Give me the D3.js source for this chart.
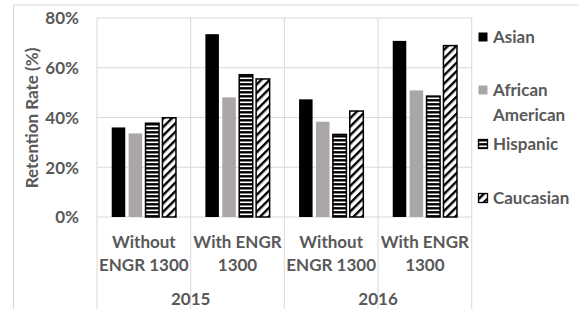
<!DOCTYPE html>
<html>
<head>
<meta charset="utf-8">
<script src="https://cdn.jsdelivr.net/npm/d3@7"></script>
<style>
  body { margin: 0; background: #fff; }
  text { font-family: Lato, "Open Sans", sans-serif; font-weight: bold; fill: #595959; }
</style>
</head>
<body>
<div id="chart"></div>
<script>
// data
const years = ['2015', '2016'];
const courses = [['Without', 'ENGR 1300'], ['With ENGR', '1300']];
const series = ['Asian', 'African American', 'Hispanic', 'Caucasian'];
const asian = [0.36, 0.735, 0.473, 0.708];
const africanAmerican = [0.336, 0.481, 0.383, 0.509];
const hispanic = [0.377, 0.572, 0.332, 0.486];
const caucasian = [0.399, 0.555, 0.426, 0.689];
const yTicks = [0, 0.2, 0.4, 0.6, 0.8];

const values = [asian, africanAmerican, hispanic, caucasian];
const cats = [];
years.forEach(function(y, yi) {
  courses.forEach(function(c, ci) { cats.push({year: y, yi: yi, label: c, idx: yi * 2 + ci}); });
});

const width = 579, height = 309;
const plotL = 97, plotR = 471.7, plotT = 18, plotB = 217;
const grid = '#d9d9d9';
const fs = '17px';

const svg = d3.select('#chart').append('svg')
  .attr('width', width)
  .attr('height', height);

// patterns
const defs = svg.append('defs');
const pH = defs.append('pattern')
  .attr('id', 'hstripe').attr('patternUnits', 'userSpaceOnUse')
  .attr('width', 8).attr('height', 4);
pH.append('rect').attr('width', 8).attr('height', 4).attr('fill', '#000');
pH.append('rect').attr('y', 1.5).attr('width', 8).attr('height', 1.6).attr('fill', '#fff');

const pD = defs.append('pattern')
  .attr('id', 'dstripe').attr('patternUnits', 'userSpaceOnUse')
  .attr('width', 6).attr('height', 6)
  .attr('patternTransform', 'rotate(45)');
pD.append('rect').attr('width', 6).attr('height', 6).attr('fill', '#fff');
pD.append('rect').attr('width', 2.4).attr('height', 6).attr('fill', '#000');

const fills = ['#000', '#a9a6a5', 'url(#hstripe)', 'url(#dstripe)'];
const strokes = ['#000', 'none', '#000', '#000'];

// chart border
svg.append('line').attr('x1', 13.5).attr('x2', width).attr('y1', 5).attr('y2', 5)
  .attr('stroke', grid).attr('stroke-width', 1.2);
svg.append('line').attr('x1', 13.5).attr('x2', 13.5).attr('y1', 5).attr('y2', height)
  .attr('stroke', grid).attr('stroke-width', 1.2);

const x = d3.scaleBand()
  .domain(cats.map(function(d) { return d.idx; }))
  .range([plotL, plotR]);

const xInner = d3.scaleBand()
  .domain(series)
  .range([0, x.bandwidth()])
  .paddingInner(0.2)
  .paddingOuter(0.87);

const y = d3.scaleLinear()
  .domain([0, 0.8])
  .range([plotB, plotT]);

// horizontal gridlines
svg.append('g').selectAll('line')
  .data(yTicks)
  .enter().append('line')
  .attr('x1', plotL).attr('x2', plotR)
  .attr('y1', function(d) { return y(d); })
  .attr('y2', function(d) { return y(d); })
  .attr('stroke', grid).attr('stroke-width', 1);

// vertical category lines
const edges = cats.map(function(d) { return x(d.idx); }).concat([plotR]);
svg.append('g').selectAll('line')
  .data(edges)
  .enter().append('line')
  .attr('x1', function(d) { return d; })
  .attr('x2', function(d) { return d; })
  .attr('y1', plotT).attr('y2', height)
  .attr('stroke', grid).attr('stroke-width', 1);

// y axis labels
const yAxis = d3.axisLeft(y).tickValues(yTicks).tickSize(0).tickPadding(0)
  .tickFormat(d3.format('.0%'));
const gy = svg.append('g')
  .attr('transform', 'translate(79,0)')
  .call(yAxis);
gy.select('.domain').remove();
gy.selectAll('text').style('font-size', fs).attr('dy', '0.35em');

svg.append('text')
  .attr('transform', 'translate(38,118) rotate(-90)')
  .attr('text-anchor', 'middle')
  .style('font-size', fs)
  .text('Retention Rate (%)');

// bars
series.forEach(function(s, si) {
  svg.append('g').selectAll('rect')
    .data(values[si])
    .enter().append('rect')
    .attr('x', function(d, i) { return x(i) + xInner(s); })
    .attr('y', function(d) { return y(d); })
    .attr('width', xInner.bandwidth())
    .attr('height', function(d) { return y(0) - y(d); })
    .attr('fill', fills[si])
    .attr('stroke', strokes[si])
    .attr('stroke-width', si === 0 ? 0 : 1.5);
});

// category labels
const catG = svg.append('g').selectAll('text')
  .data(cats)
  .enter().append('text')
  .attr('text-anchor', 'middle')
  .style('font-size', fs)
  .attr('x', function(d) { return x(d.idx) + x.bandwidth() / 2; })
  .attr('y', 248);
catG.append('tspan').text(function(d) { return d.label[0]; });
catG.append('tspan')
  .attr('x', function(d) { return x(d.idx) + x.bandwidth() / 2; })
  .attr('dy', 23)
  .text(function(d) { return d.label[1]; });

// year labels
svg.append('g').selectAll('text')
  .data(years)
  .enter().append('text')
  .attr('text-anchor', 'middle')
  .style('font-size', fs)
  .attr('x', function(d, i) { return x(i * 2) + x.bandwidth(); })
  .attr('y', 305)
  .text(function(d) { return d; });

// legend
const legendY = [37, 90, 144, 198];
const leg = svg.append('g').selectAll('g')
  .data(series)
  .enter().append('g')
  .attr('transform', function(d, i) { return 'translate(478,' + legendY[i] + ')'; });
leg.append('rect')
  .attr('x', 0.5).attr('y', -4.5)
  .attr('width', 9).attr('height', 9)
  .attr('fill', function(d, i) { return fills[i]; })
  .attr('stroke', function(d, i) { return strokes[i]; })
  .attr('stroke-width', function(d, i) { return i === 0 ? 0 : 1.3; });
const lt = leg.append('text')
  .attr('x', 15)
  .attr('y', 0)
  .attr('dy', '0.35em')
  .style('font-size', fs);
lt.append('tspan').text(function(d) { return d === 'African American' ? 'African' : d; });
lt.filter(function(d) { return d === 'African American'; })
  .append('tspan').attr('x', 15).attr('dy', 25).text('American');
</script>
</body>
</html>
